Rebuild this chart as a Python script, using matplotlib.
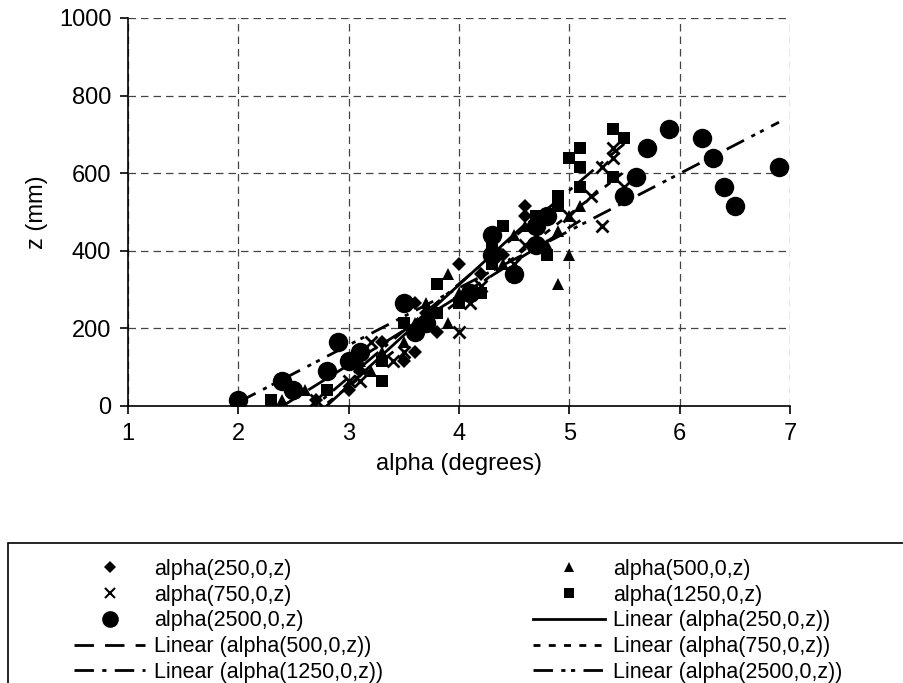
import numpy as np
import matplotlib
matplotlib.use('Agg')
import matplotlib.pyplot as plt
from matplotlib.patches import Rectangle
from matplotlib.lines import Line2D

plt.rcParams['font.family'] = ['Liberation Sans', 'DejaVu Sans']

# alpha (degrees) and z (mm) for each x position
x_250 = [2.7, 3.0, 3.1, 3.3, 3.5, 3.6, 3.6, 3.7, 3.8, 4.0, 4.2, 4.4, 4.6, 4.6]
z_250 = [15, 40, 90, 165, 115, 140, 265, 240, 190, 365, 340, 390, 490, 515]

x_500 = [2.4, 2.6, 3.1, 3.2, 3.3, 3.5, 3.6, 3.7, 3.9, 3.9, 4.0, 4.4, 4.5, 4.6,
         4.8, 4.9, 4.9, 5.0, 5.0, 5.1]
z_500 = [15, 40, 115, 90, 140, 165, 215, 265, 340, 215, 290, 365, 440, 465,
         415, 315, 450, 390, 490, 515]

x_750 = [2.7, 3.0, 3.1, 3.2, 3.4, 3.5, 4.0, 4.1, 4.2, 4.5, 4.6, 5.0, 5.2, 5.3,
         5.3, 5.4, 5.4, 5.5]
z_750 = [15, 65, 65, 165, 115, 140, 190, 265, 310, 365, 415, 490, 540, 465,
         615, 665, 640, 565]

x_1250 = [2.3, 2.8, 3.3, 3.3, 3.5, 3.6, 3.8, 3.8, 4.0, 4.1, 4.2, 4.3, 4.3, 4.4,
          4.7, 4.8, 4.9, 4.9, 5.0, 5.1, 5.1, 5.1, 5.4, 5.4, 5.5]
z_1250 = [15, 40, 65, 115, 215, 190, 240, 315, 265, 290, 290, 415, 365, 465,
          490, 390, 540, 515, 640, 665, 615, 565, 715, 590, 690]

x_2500 = [2.0, 2.4, 2.5, 2.8, 2.9, 3.0, 3.1, 3.5, 3.6, 3.7, 4.1, 4.3, 4.3, 4.5,
          4.7, 4.7, 4.8, 5.5, 5.6, 5.7, 5.9, 6.2, 6.3, 6.4, 6.5, 6.9]
z_2500 = [15, 65, 40, 90, 165, 115, 140, 265, 190, 215, 290, 440, 390, 340,
          465, 415, 490, 540, 590, 665, 715, 690, 640, 565, 515, 615]

series = [
    ('alpha(250,0,z)', x_250, z_250, 'D', 7, '-'),
    ('alpha(500,0,z)', x_500, z_500, '^', 9, (0, (7, 4))),
    ('alpha(750,0,z)', x_750, z_750, 'x', 8, (0, (2.5, 3))),
    ('alpha(1250,0,z)', x_1250, z_1250, 's', 8, (0, (7, 3, 1.5, 3))),
    ('alpha(2500,0,z)', x_2500, z_2500, 'o', 14, (0, (7, 3, 1.5, 2, 1.5, 3))),
]

fig = plt.figure(figsize=(9.04, 6.83), dpi=100)
ax = fig.add_axes([128 / 904, 1 - 406 / 683, 662 / 904, 388 / 683])

fits = {}
for name, xs, zs, mk, ms, ls in series:
    mew = 2 if mk == 'x' else 0
    ax.plot(xs, zs, linestyle='none', marker=mk, markersize=ms,
            color='black', markeredgewidth=mew, zorder=3)
    # linear trendline over the data range
    k, b = np.polyfit(xs, zs, 1)
    xx = np.array([min(xs), max(xs)])
    fits[name] = ax.plot(xx, k * xx + b, color='black', linestyle=ls,
                         linewidth=2, zorder=4)[0]

ax.set_xlim(1, 7)
ax.set_ylim(0, 1000)
ax.set_xticks(range(1, 8))
ax.set_yticks(range(0, 1001, 200))
ax.grid(True, color='#444444', linestyle=(0, (6, 4)), linewidth=0.9)
ax.set_axisbelow(True)
for s in ['top', 'right']:
    ax.spines[s].set_visible(False)
for s in ['left', 'bottom']:
    ax.spines[s].set_linewidth(1.2)
ax.tick_params(direction='out', length=6, width=1.2, labelsize=17, pad=6)
ax.set_xlabel('alpha (degrees)', fontsize=17, labelpad=6)
ax.set_ylabel('z (mm)', fontsize=17, labelpad=8)

# legend box (runs off the right and bottom edge like the original)
fig.patches.append(Rectangle((8 / 904, -0.05), 1.0, 0.05 + (683 - 543) / 683,
                             transform=fig.transFigure, fill=False,
                             edgecolor='black', linewidth=1.2))

def mh(mk, ms):
    return Line2D([], [], linestyle='none', marker=mk, markersize=ms,
                  color='black', markeredgewidth=1.5 if mk == 'x' else 0)

n = [s[0] for s in series]
handles = [mh('D', 6), mh('x', 7), mh('o', 12), fits[n[1]], fits[n[3]],
           mh('^', 7), mh('s', 7), fits[n[0]], fits[n[2]], fits[n[4]]]
labels = [n[0], n[2], n[4], 'Linear (' + n[1] + ')', 'Linear (' + n[3] + ')',
          n[1], n[3], 'Linear (' + n[0] + ')', 'Linear (' + n[2] + ')',
          'Linear (' + n[4] + ')']
fig.legend(handles, labels, loc='upper left', ncol=2, frameon=False,
           bbox_to_anchor=(74 / 904, 1 - 559 / 683), borderaxespad=0,
           borderpad=0, fontsize=15.5, handlelength=3.3, handletextpad=0.4,
           columnspacing=7.0, labelspacing=0.22)

fig.savefig('out.png', dpi=100)
